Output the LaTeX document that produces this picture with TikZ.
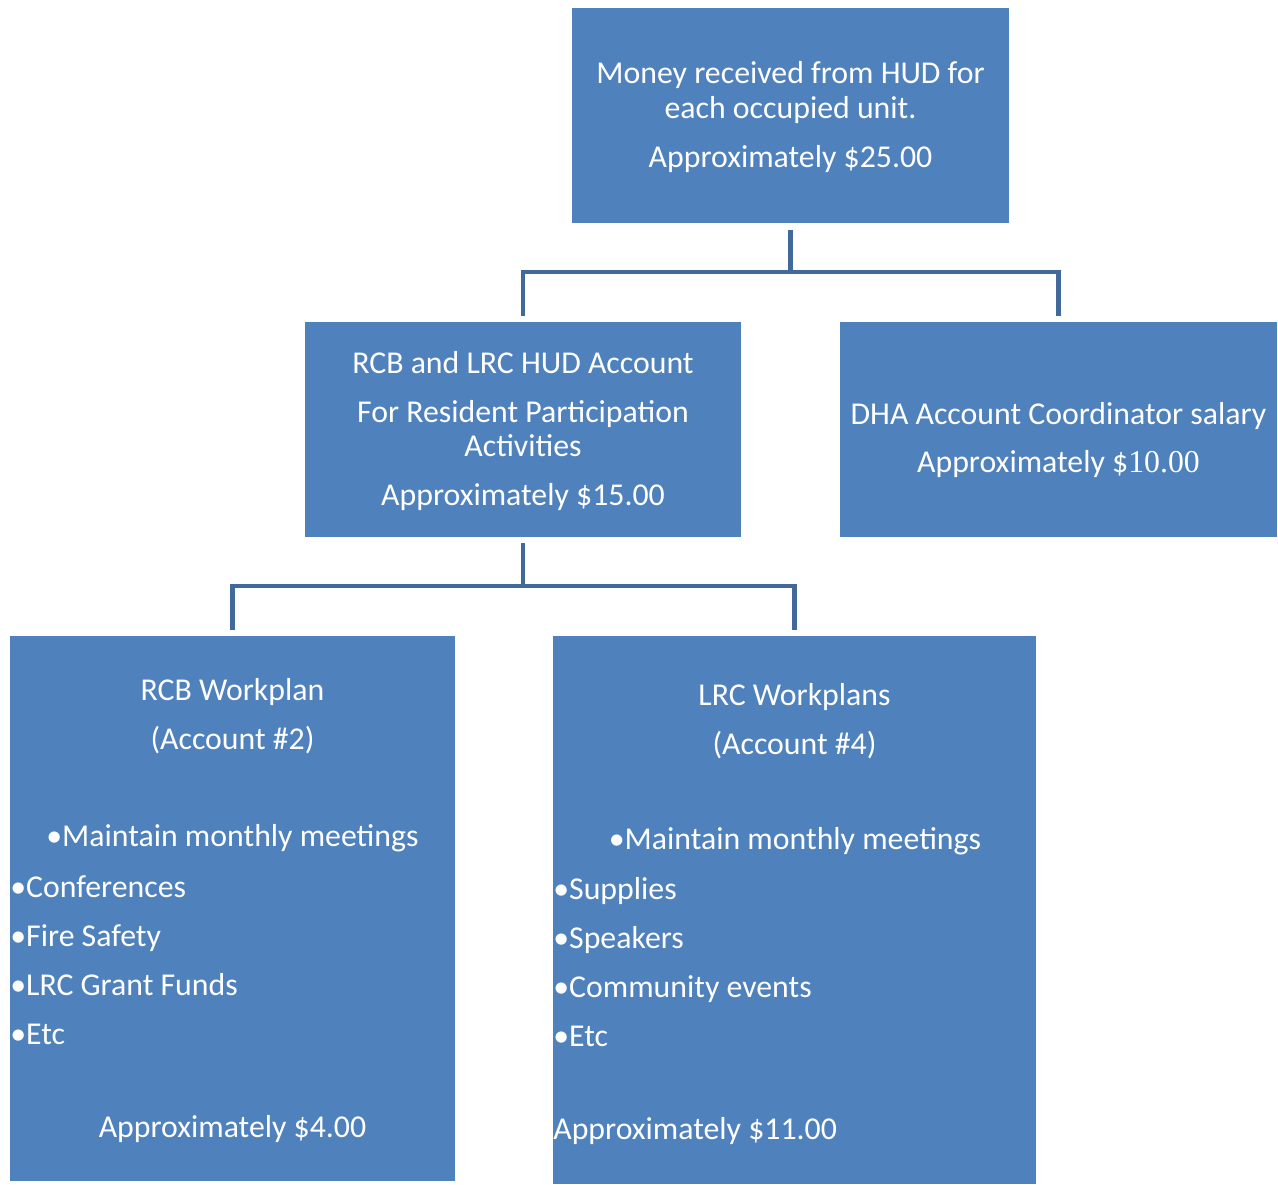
\documentclass[tikz,border=0pt]{standalone}
\usepackage{fontspec}
\setmainfont{Carlito}
\newfontfamily\numfont{Liberation Serif}
\usetikzlibrary{calc}
\definecolor{boxblue}{HTML}{4F81BD}
\definecolor{linkblue}{HTML}{41699B}
\tikzset{
 box/.style={rectangle,fill=boxblue,draw=none,inner sep=0pt},
 txt/.style={text=white,font=\fontsize{18.1}{19.9}\selectfont,align=center,inner sep=0pt},
 listtxt/.style={txt,font=\fontsize{18.1}{27.9}\selectfont,align=left},
 link/.style={draw=linkblue,line width=2.3pt}
}
\begin{document}
\begin{tikzpicture}[x=0.02cm,y=-0.02cm]
 \useasboundingbox (0,0) rectangle (1278,1184);

 \node[box,minimum width=8.74cm,minimum height=4.3cm] (top) at (790.5,115.5) {};
 \node[box,minimum width=8.72cm,minimum height=4.3cm] (rcb) at (523,429.5) {};
 \node[box,minimum width=8.74cm,minimum height=4.3cm] (dha) at (1058.5,429.5) {};
 \node[box,minimum width=8.9cm,minimum height=10.9cm] (wp2) at (232.5,908.5) {};
 \node[box,minimum width=9.66cm,minimum height=10.96cm] (wp4) at (794.5,910) {};

 \node[txt] (toptext) at (790.5,117) {Money received from HUD for\\each occupied unit.\\[0.28cm]Approximately \$25.00};
 \node[txt] (rcbtext) at (523,431) {RCB and LRC HUD Account\\[0.28cm]For Resident Participation\\Activities\\[0.28cm]Approximately \$15.00};
 \node[txt] (dhatext) at (1058.5,440) {DHA Account Coordinator salary\\[0.28cm]Approximately \${\numfont 10.00}};

 \node[txt] (wp2title) at (232.5,716.5) {RCB Workplan\\[0.28cm](Account \#2)};
 \node[txt] (wp2first) at (232.5,838) {•Maintain monthly meetings};
 \node[listtxt,anchor=west] (wp2list) at (10,960) {•Conferences\\•Fire Safety\\•LRC Grant Funds\\•Etc};
 \node[txt] (wp2total) at (232.5,1129) {Approximately \$4.00};

 \node[txt] (wp4title) at (794.5,721.5) {LRC Workplans\\[0.28cm](Account \#4)};
 \node[txt] (wp4first) at (795,841) {•Maintain monthly meetings};
 \node[listtxt,anchor=west] (wp4list) at (553,962.5) {•Supplies\\•Speakers\\•Community events\\•Etc};
 \node[txt,anchor=west] (wp4total) at (553,1131) {Approximately \$11.00};

 \draw[link] ($(top.south)+(0,7)$) -- ($(top.south)+(0,49)$);
 \draw[link] ($(rcb.north)+(0,-6)$) |- ($(top.south)+(0,49)$) -| ($(dha.north)+(0,-6)$);

 \draw[link] ($(rcb.south)+(0,6)$) -- ($(rcb.south)+(0,49)$);
 \draw[link] ($(wp2.north)+(0,-6)$) |- ($(rcb.south)+(0,49)$) -| ($(wp4.north)+(0,-6)$);
\end{tikzpicture}
\end{document}
